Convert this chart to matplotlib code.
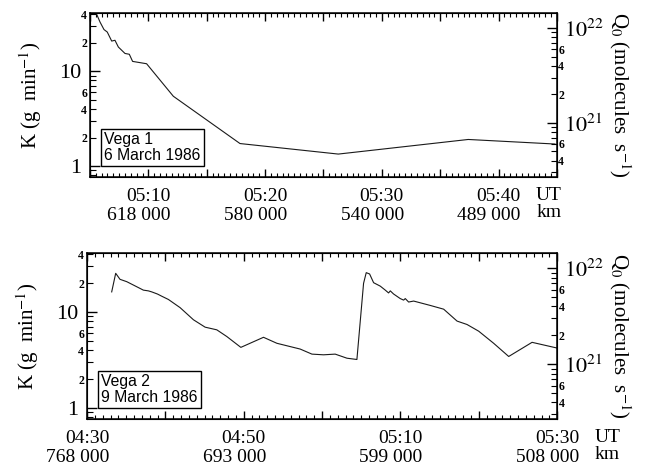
import numpy as np
import matplotlib
matplotlib.use('Agg')
import matplotlib.pyplot as plt

plt.rcParams['font.family'] = ['Liberation Serif', 'DejaVu Serif']
plt.rcParams['mathtext.fontset'] = 'stix'

# Vega 1, 6 March 1986 -- time in minutes after 05:00 UT, K in g/min
v1_time = [5.43, 5.86, 6.20, 6.48, 6.86, 7.14, 7.43, 8.00, 8.37, 8.65, 9.85,
           12.14, 17.85, 26.27, 37.4, 44.83]
v1_k = [43.8, 33.0, 27.5, 25.9, 20.8, 21.2, 18.0, 15.4, 15.1, 12.7, 12.0,
        5.45, 1.73, 1.34, 1.91, 1.71]

# Vega 2, 9 March 1986 -- time in minutes after 04:30 UT
v2_time = [3.15, 3.66, 4.21, 5.07, 6.77, 7.19, 7.83, 8.26, 8.98, 9.54, 10.39,
           11.88, 13.58, 15.07, 16.56, 17.84, 19.63, 22.52, 24.23, 27.20,
           28.70, 30.18, 31.67, 33.17, 34.44, 35.29, 35.63, 36.06, 36.57,
           37.42, 38.06, 38.48, 38.70, 39.12, 39.97, 40.40, 40.61, 41.04,
           41.68, 43.81, 45.51, 47.22, 48.49, 49.98, 51.89, 53.81, 56.79, 59.99]
v2_k = [16.2, 25.3, 21.9, 20.7, 17.6, 16.9, 16.6, 16.2, 15.4, 14.6, 13.5,
        11.1, 8.3, 6.95, 6.52, 5.55, 4.28, 5.45, 4.72, 4.11,
        3.64, 3.58, 3.64, 3.30, 3.20, 19.9, 25.7, 24.9, 20.2,
        18.6, 16.9, 15.8, 16.6, 15.4, 13.8, 13.3, 13.8, 12.7,
        13.0, 11.7, 10.7, 8.04, 7.41, 6.31, 4.72, 3.44, 4.83, 4.21]

v1_ut = ['05:10', '05:20', '05:30', '05:40']
v1_km = ['618 000', '580 000', '540 000', '489 000']
v1_ticks = [10, 20, 30, 40]
v2_ut = ['04:30', '04:50', '05:10', '05:30']
v2_km = ['768 000', '693 000', '599 000', '508 000']
v2_ticks = [0, 20, 40, 60]

q_factor = 3.5e20   # Q0 = K * factor
ylim = (0.77, 41)

fig = plt.figure(figsize=(6.45, 4.68), dpi=100)
ax1 = fig.add_axes([0.1395, 0.622, 0.724, 0.350])
ax2 = fig.add_axes([0.1349, 0.105, 0.729, 0.354])


def style_panel(ax, time, k, xlim, major_step, minor_step, ticks, ut, km, name):
    ax.plot(time, k, color='#1a1a1a', lw=0.8)
    ax.set_yscale('log')
    ax.set_ylim(*ylim)
    ax.set_xlim(*xlim)
    for s in ax.spines.values():
        s.set_linewidth(1.1)

    # x ticks
    ax.set_xticks(np.arange(xlim[0], xlim[1] + 0.01, major_step))
    ax.set_xticks(np.arange(xlim[0], xlim[1] + 0.01, minor_step), minor=True)
    lab = []
    for v in np.arange(xlim[0], xlim[1] + 0.01, major_step):
        lab.append(ut[ticks.index(v)] if v in ticks else '')
    ax.set_xticklabels(lab, fontsize=14)
    ax.tick_params(axis='x', which='both', direction='in', top=True, pad=8)
    ax.tick_params(axis='x', which='major', length=6, width=1)
    ax.tick_params(axis='x', which='minor', length=3, width=0.8)
    for t, kk in zip(ticks, km):
        ax.annotate(kk, xy=(t, 0), xycoords=('data', 'axes fraction'),
                    xytext=(16, -22), textcoords='offset points',
                    ha='right', va='top', fontsize=14)
    ax.annotate('UT\nkm', xy=(ticks[-1], 0), xycoords=('data', 'axes fraction'),
                xytext=(27, -7), textcoords='offset points',
                ha='left', va='top', fontsize=14, linespacing=1.05)

    # left y ticks
    ax.set_yticks([1, 10])
    ax.set_yticklabels(['1', '10'], fontsize=16)
    minor = [0.8, 0.9, 2, 3, 4, 5, 6, 7, 8, 9, 20, 30, 40]
    mlab = {2: '2', 4: '4', 6: '6', 20: '2', 40: '4'}
    ax.set_yticks(minor, minor=True)
    ax.set_yticklabels([mlab.get(m, '') for m in minor], minor=True,
                       fontsize=8.5, fontweight='bold')
    ax.tick_params(axis='y', which='major', direction='in', length=7, width=1, pad=6)
    ax.tick_params(axis='y', which='minor', direction='in', length=4, width=0.8, pad=2)
    ax.set_ylabel('K (g  min$^{-1}$)', fontsize=15, labelpad=11)

    # right axis: Q0
    ax_r = ax.twinx()
    ax_r.set_yscale('log')
    ax_r.set_ylim(ylim[0] * q_factor, ylim[1] * q_factor)
    ax_r.set_yticks([1e21, 1e22])
    ax_r.set_yticklabels(['$10^{21}$', '$10^{22}$'], fontsize=16)
    rminor = [3e20, 4e20, 5e20, 6e20, 7e20, 8e20, 9e20,
              2e21, 3e21, 4e21, 5e21, 6e21, 7e21, 8e21, 9e21]
    rlab = {4e20: '4', 6e20: '6', 2e21: '2', 4e21: '4', 6e21: '6'}
    ax_r.set_yticks(rminor, minor=True)
    ax_r.set_yticklabels([rlab.get(m, '') for m in rminor], minor=True,
                         fontsize=8.5, fontweight='bold')
    ax_r.tick_params(axis='y', which='major', direction='in', length=7, width=1, pad=5)
    ax_r.tick_params(axis='y', which='minor', direction='in', length=4, width=0.8, pad=1)
    ax_r.set_ylabel('Q$_0$ (molecules  s$^{-1}$)', fontsize=15, rotation=270,
                    labelpad=21)

    ax.text(0.03, 0.085, name, transform=ax.transAxes, fontsize=11.3,
            family='Liberation Sans', ha='left', va='bottom', linespacing=1.05,
            bbox=dict(boxstyle='square,pad=0.22', fc='white', ec='black', lw=1))


style_panel(ax1, v1_time, v1_k, (5, 45), 5, 0.5, v1_ticks, v1_ut, v1_km,
            'Vega 1\n6 March 1986')
style_panel(ax2, v2_time, v2_k, (0, 60), 10, 1, v2_ticks, v2_ut, v2_km,
            'Vega 2\n9 March 1986')

fig.savefig('out.png', dpi=100)
